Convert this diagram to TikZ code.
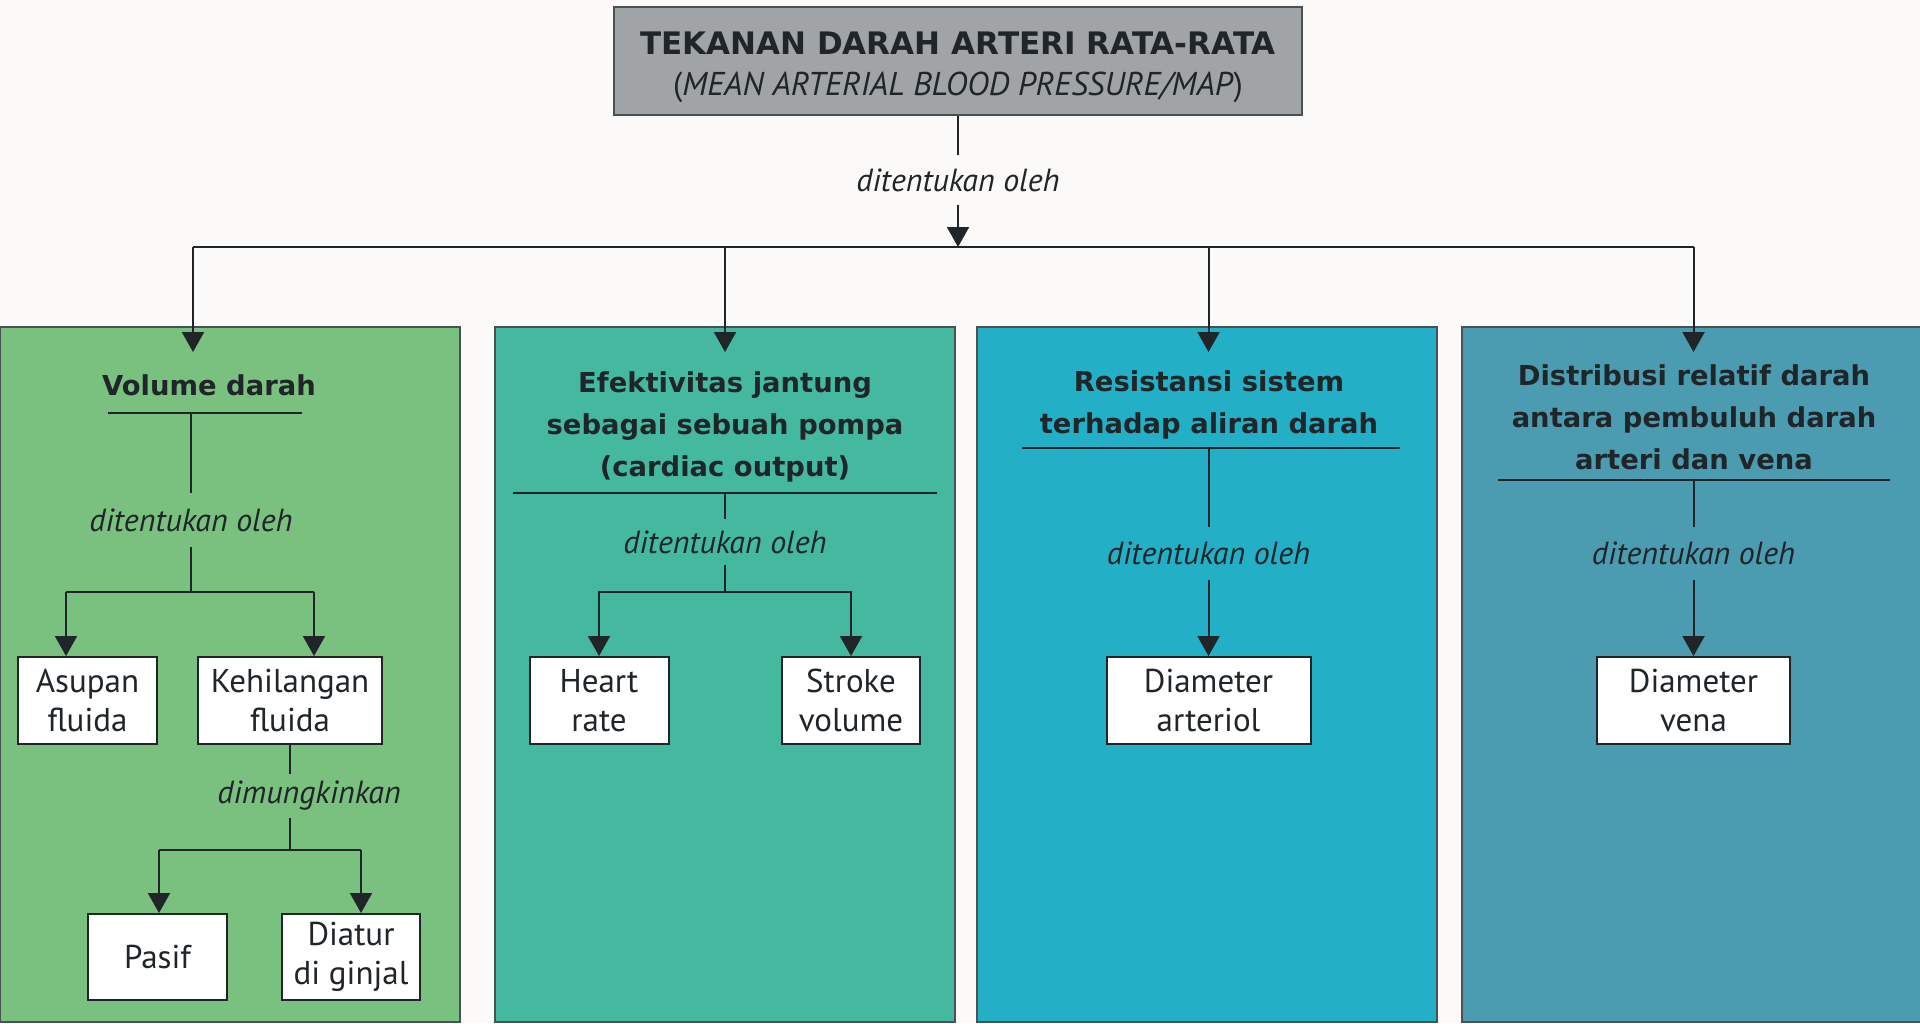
\documentclass[tikz,border=0pt]{standalone}
\usepackage{fontspec}
\setmainfont{PT Sans}
\newfontfamily\headfont{DejaVu Sans}
\usetikzlibrary{positioning,arrows.meta,calc}

\definecolor{paper}{HTML}{FBFAF8}
\definecolor{ink}{HTML}{1F2528}
\definecolor{greyfill}{HTML}{A1A4A7}
\definecolor{greenp}{HTML}{7AC07F}
\definecolor{tealp}{HTML}{45B9A0}
\definecolor{cyanp}{HTML}{23AFC5}
\definecolor{bluep}{HTML}{4B9CB1}
\definecolor{edge}{HTML}{4A5152}

\tikzset{
  panel/.style={draw=edge, line width=1pt},
  topbox/.style={draw=edge, fill=greyfill, line width=1pt, minimum width=344pt,
    minimum height=54pt, align=center, text=ink, inner sep=0pt,
    font=\fontsize{16.5}{20.5}\selectfont},
  leaf/.style={draw=ink, fill=white, line width=1pt, align=center, text=ink,
    inner sep=0pt, minimum height=43.5pt, font=\fontsize{16.5}{19.5}\selectfont},
  head/.style={align=center, text=ink, font=\headfont\bfseries\fontsize{13.7}{21}\selectfont},
  via/.style={text=ink, inner xsep=2pt, inner ysep=0pt, minimum height=25pt,
    font=\itshape\fontsize{16}{19}\selectfont},
  link/.style={draw=ink, line width=1pt},
  arr/.style={link, -{Triangle[width=11pt,length=10pt]}},
}

\begin{document}
\begin{tikzpicture}[x=0.5pt,y=-0.5pt]
  % page
  \fill[paper] (0,0) rectangle (1920,1023);
  \useasboundingbox (0,0) rectangle (1920,1023);
  % the four coloured panels
  \foreach \xa/\xb/\c in {0/460/greenp, 495/955/tealp, 977/1437/cyanp, 1462/1923/bluep} {
    \draw[panel, fill=\c] (\xa,327) rectangle (\xb,1022);
  }

  % top box
  \node[topbox] (map) at (958,61) {\rule{0pt}{18pt}{\headfont\bfseries\fontsize{15.5}{20.5}\selectfont TEKANAN DARAH ARTERI RATA-RATA}\\
    (\textit{MEAN ARTERIAL BLOOD PRESSURE/MAP})};
  \node[via] (lab0) at (958,180) {ditentukan oleh};
  \coordinate (bus) at (958,247);
  \foreach \i/\x in {1/193, 2/725, 3/1208.5, 4/1693.5} {
    \coordinate (b\i) at (\x,247);
    \coordinate (t\i) at (\x,352);
  }
  \draw[link] (map) -- (lab0);
  \draw[arr] (lab0) -- (bus);
  \draw[link] (b1) -- (b4);
  \foreach \i in {1,...,4} {
    \draw[arr] (b\i) -- (t\i);
  }

  % panel 1
  \node[head] (h1) at (209,385) {Volume darah};
  \draw[link] (108,413) -- (302,413);
  \coordinate (u1) at (191,413);
  \node[via, minimum height=27pt] (lab1) at (191,520) {ditentukan oleh};
  \coordinate (f1) at (191,592);
  \coordinate (a1) at (66,592);
  \coordinate (a2) at (314,592);
  \node[leaf, minimum width=69.5pt] (asupan) at (87.5,700.5) {Asupan\\fluida};
  \node[leaf, minimum width=92pt] (kehil) at (290,700.5) {Kehilangan\\fluida};
  \node[via, minimum height=21.5pt] (dim) at (309,796) {dimungkinkan};
  \coordinate (c1) at (159,850);
  \coordinate (c2) at (361,850);
  \node[leaf, minimum width=69.5pt, minimum height=43pt] (pasif) at (157.5,957) {Pasif};
  \node[leaf, minimum width=69pt, minimum height=43pt] (diatur) at (351,957) {Diatur\\di ginjal};
  \draw[link] (u1) -- (lab1);
  \draw[link] (lab1) -- (f1);
  \draw[link] (a1) -- (a2);
  \draw[arr] (a1) -- (a1 |- asupan.north);
  \draw[arr] (a2) -- (a2 |- kehil.north);
  \draw[link] (kehil.south) -- (kehil.south |- dim.north);
  \draw[link] (kehil.south |- dim.south) -- (kehil.south |- c1);
  \draw[link] (c1) -- (c2);
  \draw[arr] (c1) -- (c1 |- pasif.north);
  \draw[arr] (c2) -- (c2 |- diatur.north);

  % panel 2
  \node[head] (h2) at (725,427) {Efektivitas jantung\\sebagai sebuah pompa\\(cardiac output)};
  \draw[link] (513,493) -- (937,493);
  \coordinate (u2) at (725,493);
  \node[via, minimum height=22.5pt] (lab2) at (725,542) {ditentukan oleh};
  \coordinate (f2) at (725,592);
  \node[leaf, minimum width=69.5pt] (heart) at (599,700.5) {Heart\\rate};
  \node[leaf, minimum width=69pt] (stroke) at (851,700.5) {Stroke\\volume};
  \draw[link] (u2) -- (lab2);
  \draw[link] (lab2) -- (f2);
  \draw[arr] (f2) -| (heart);
  \draw[arr] (f2) -| (stroke);

  % panel 3
  \node[head] (h3) at (1209,404.5) {Resistansi sistem\\terhadap aliran darah};
  \draw[link] (1022,448) -- (1400,448);
  \coordinate (u3) at (1208.5,448);
  \node[via, minimum height=26.5pt] (lab3) at (1208.5,553.5) {ditentukan oleh};
  \node[leaf, minimum width=102pt] (arteriol) at (1208.5,700.5) {Diameter\\arteriol};
  \draw[link] (u3) -- (lab3);
  \draw[arr] (lab3) -- (arteriol);

  % panel 4
  \node[head] (h4) at (1694,417) {Distribusi relatif darah\\antara pembuluh darah\\arteri dan vena};
  \draw[link] (1498,480) -- (1890,480);
  \coordinate (u4) at (1693.5,480);
  \node[via, minimum height=26.5pt] (lab4) at (1693.5,553.5) {ditentukan oleh};
  \node[leaf, minimum width=96.5pt] (vena) at (1693.5,700.5) {Diameter\\vena};
  \draw[link] (u4) -- (lab4);
  \draw[arr] (lab4) -- (vena);
\end{tikzpicture}
\end{document}
